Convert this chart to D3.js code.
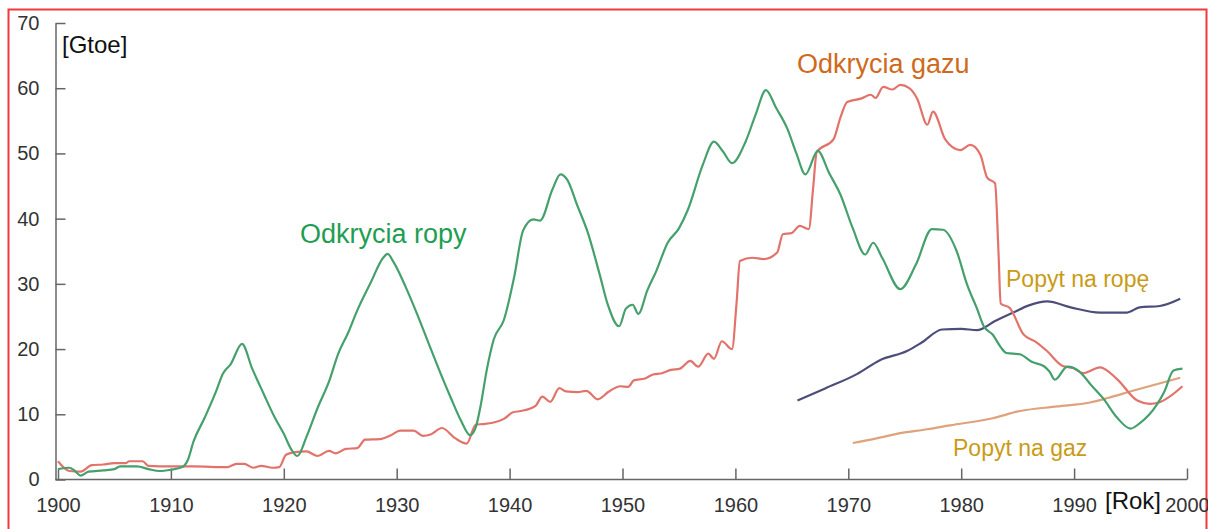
<!DOCTYPE html>
<html>
<head>
<meta charset="utf-8">
<script src="https://cdn.jsdelivr.net/npm/d3@7"></script>
<style>
  body { margin: 0; background: #fff; }
  svg { display: block; font-family: "Liberation Sans", Arial, sans-serif; }
  .axis path, .axis line { stroke: #666; stroke-width: 1.5; }
</style>
</head>
<body>
<svg width="1208" height="529"></svg>
<script>
// odkrycia ropy (oil discoveries), [year, Gtoe]
const oilFound = [
  [1900, 1.6], [1901, 1.8], [1901.5, 1.3], [1902, 0.6], [1902.7, 1.2], [1904, 1.4],
  [1905, 1.6], [1905.5, 2.0], [1907, 2.0], [1908, 1.6], [1909, 1.3], [1910, 1.5],
  [1911, 1.9], [1911.5, 3], [1912, 5.8], [1913, 9.5], [1914, 13.5], [1914.6, 16.2],
  [1915.3, 17.7], [1916.3, 20.8], [1917.2, 17], [1918.2, 13.2], [1919.2, 9.5], [1920, 7],
  [1920.7, 4.5], [1921.2, 3.6], [1922, 6.5], [1923, 11], [1924, 15], [1924.8, 19.2],
  [1925.7, 22.5], [1926.5, 25.9], [1927.7, 30.2], [1928.8, 34], [1929.2, 34.6], [1929.7, 33.4],
  [1930.8, 29.5], [1931.8, 25.4], [1932.8, 21], [1933.9, 16.2], [1934.8, 12.5], [1935.7, 9],
  [1936.5, 6.8], [1937.0, 8], [1937.4, 11], [1938, 17], [1938.6, 21.5], [1939.5, 24.5],
  [1940.4, 31], [1941.2, 38.2], [1942.1, 39.9], [1942.7, 39.7], [1943.8, 44.5], [1944.5, 46.8],
  [1945.1, 46], [1946, 42], [1946.9, 38], [1948, 31.3], [1948.7, 26.8], [1949.7, 23.5],
  [1950.3, 26.2], [1950.9, 26.8], [1951.4, 25.4], [1952.2, 29], [1953, 32], [1954, 36.3],
  [1955, 38.5], [1955.8, 41.4], [1957.1, 48.2], [1958.1, 51.8], [1958.9, 50.3], [1959.7, 48.5],
  [1960.9, 51.8], [1961.8, 56], [1962.7, 59.7], [1963.6, 57], [1964.6, 53.8], [1965.4, 50],
  [1966.2, 46.8], [1967.3, 50.4], [1968.3, 47], [1969.3, 43.7], [1970.4, 38.5], [1971.5, 34.5],
  [1972.2, 36.3], [1973, 34], [1974.6, 29.2], [1976, 33], [1977.4, 38.4], [1978.4, 38.3],
  [1979.6, 35], [1980.5, 30], [1981.4, 26.2], [1982, 23.5], [1982.8, 22.2], [1983.5, 20.3],
  [1984.0, 19.4], [1985.2, 19.2], [1986.3, 18], [1987.3, 17.4], [1987.8, 16.6], [1988.3, 15.3],
  [1989.4, 17.3], [1990.5, 16.5], [1991.5, 14.5], [1992.6, 12.4], [1993.8, 9.5], [1995, 7.8],
  [1995.8, 8.6], [1997.3, 11.4], [1998, 13.5], [1998.8, 16.7], [1999.6, 17]
];

// odkrycia gazu (gas discoveries)
const gasFound = [
  [1900, 2.8], [1901, 1.3], [1902, 1.2], [1903, 2.2], [1904, 2.3], [1905, 2.5], [1906, 2.5],
  [1906.3, 2.8], [1907.5, 2.8], [1908, 2.1], [1910, 2.0], [1912, 2.0], [1915, 1.9],
  [1915.8, 2.4], [1916.5, 2.4], [1917.3, 1.8], [1918, 2.1], [1919, 1.8], [1919.6, 1.9],
  [1920.2, 3.8], [1921, 4.2], [1922, 4.3], [1923, 3.6], [1924, 4.4], [1924.6, 4.0],
  [1925.5, 4.7], [1926.5, 4.8], [1927.2, 6.1], [1928.5, 6.2], [1929.5, 6.8], [1930.3, 7.5],
  [1931.5, 7.5], [1932.3, 6.7], [1933, 6.9], [1934, 7.9], [1935.2, 6.3], [1936.2, 5.5],
  [1937, 8.4], [1937.6, 8.5], [1938.5, 8.7], [1939.5, 9.3], [1940.3, 10.3], [1941, 10.5],
  [1942.3, 11.3], [1942.9, 12.7], [1943.6, 11.9], [1944.4, 14], [1945, 13.5], [1946, 13.4],
  [1946.8, 13.6], [1947.8, 12.3], [1948.8, 13.5], [1949.8, 14.3], [1950.5, 14.2], [1951, 15.2],
  [1952, 15.5], [1952.7, 16.1], [1953.5, 16.3], [1954.3, 16.8], [1955.1, 17], [1956, 18.2],
  [1956.7, 17.3], [1957.6, 19.3], [1958.1, 18.5], [1958.8, 21.2], [1959.7, 20], [1960.1, 27],
  [1960.4, 33.5], [1961.5, 34], [1962.5, 33.8], [1963.7, 34.8], [1964.2, 37.6], [1965, 37.8],
  [1965.7, 38.9], [1966.5, 38.4], [1966.9, 45], [1967.2, 50.2], [1968.7, 52.2], [1969.3, 55.5],
  [1969.9, 57.9], [1971.1, 58.4], [1972, 59], [1972.4, 58.5], [1973.1, 60.2], [1973.9, 59.8],
  [1974.6, 60.5], [1975.4, 60], [1976.1, 58.4], [1977, 54.4], [1977.5, 56.4], [1978.6, 52.1],
  [1979.9, 50.5], [1980.8, 51.3], [1981.7, 49.8], [1982.3, 46.3], [1983, 45.4], [1983.3, 35],
  [1983.5, 27], [1984.3, 26.3], [1985.5, 22.3], [1986.7, 21], [1987.6, 19.7], [1989, 17.4],
  [1989.9, 17.1], [1990.8, 16.3], [1992.3, 17.2], [1993.8, 15.4], [1995.6, 12.1], [1996.7, 11.6],
  [1997.5, 11.8], [1999.6, 14.3]
];

// popyt na ropę (oil demand)
const oilDemand = [
  [1965.5, 12.1], [1968, 14], [1970.8, 16.2], [1972.8, 18.3], [1975.2, 19.7], [1976.5, 21],
  [1978.3, 23], [1980, 23.1], [1981.4, 22.9], [1983, 24.3], [1984.6, 25.6], [1986, 26.7],
  [1987.6, 27.3], [1989.7, 26.4], [1992.3, 25.6], [1994.7, 25.6], [1995.8, 26.4], [1997.6, 26.6],
  [1999.4, 27.7]
];

// popyt na gaz (gas demand)
const gasDemand = [
  [1970.4, 5.6], [1972.5, 6.3], [1974.6, 7.1], [1977, 7.7], [1979, 8.3], [1982.8, 9.4],
  [1985.2, 10.5], [1988.5, 11.2], [1991.4, 11.8], [1993, 12.5], [1995.2, 13.6], [1999.4, 15.6]
];

const yearTicks = d3.range(1900, 2001, 10);
const valueTicks = d3.range(0, 71, 10);

const svg = d3.select('svg');

// red frame of the original picture
svg.append('rect')
  .attr('x', 8.5).attr('y', 9.5)
  .attr('width', 1198).attr('height', 530)
  .attr('fill', 'none')
  .attr('stroke', '#f03a3a')
  .attr('stroke-width', 2);

const x = d3.scaleLinear().domain([1900, 2000]).range([58, 1187]);
const y = d3.scaleLinear().domain([0, 70]).range([479.5, 23]);

const styleTicks = g => g.selectAll('text')
  .attr('font-size', 20)
  .attr('font-family', '"Liberation Sans", Arial, sans-serif')
  .attr('fill', '#333');

svg.append('g')
  .attr('class', 'axis')
  .attr('transform', 'translate(0,479.5)')
  .call(d3.axisBottom(x).tickValues(yearTicks).tickFormat(d3.format('d'))
    .tickSize(-11).tickSizeOuter(0).tickPadding(18))
  .call(g => g.select('.domain').attr('d', 'M55.5,0H1187'))
  .call(styleTicks);

svg.append('g')
  .attr('class', 'axis')
  .attr('transform', 'translate(55.5,0)')
  .call(d3.axisLeft(y).tickValues(valueTicks).tickSize(-10).tickSizeOuter(0).tickPadding(16))
  .call(styleTicks);

const line = d3.line()
  .x(d => x(d[0]))
  .y(d => y(d[1]))
  .curve(d3.curveMonotoneX);

const series = [
  { data: gasDemand, color: '#dea27c' },
  { data: oilDemand, color: '#4d4d7c' },
  { data: gasFound, color: '#e2736b' },
  { data: oilFound, color: '#45a06c' }
];

svg.selectAll('.series').data(series)
  .enter().append('path')
    .attr('class', 'series')
    .attr('d', d => line(d.data))
    .attr('fill', 'none')
    .attr('stroke', d => d.color)
    .attr('stroke-width', 2.2)
    .attr('stroke-linejoin', 'round');

const labels = [
  { text: '[Gtoe]', x: 62, y: 53, size: 24, color: '#111' },
  { text: '[Rok]', x: 1105, y: 509, size: 24, color: '#111' },
  { text: 'Odkrycia ropy', x: 300, y: 243, size: 27, color: '#1f9e52' },
  { text: 'Odkrycia gazu', x: 797, y: 73, size: 27, color: '#cf6a1c' },
  { text: 'Popyt na ropę', x: 1006, y: 287, size: 23, color: '#c99b16' },
  { text: 'Popyt na gaz', x: 953, y: 456, size: 23, color: '#c99b16' }
];

svg.selectAll('.label').data(labels)
  .enter().append('text')
    .attr('class', 'label')
    .attr('x', d => d.x)
    .attr('y', d => d.y)
    .attr('font-size', d => d.size)
    .attr('fill', d => d.color)
    .text(d => d.text);
</script>
</body>
</html>
